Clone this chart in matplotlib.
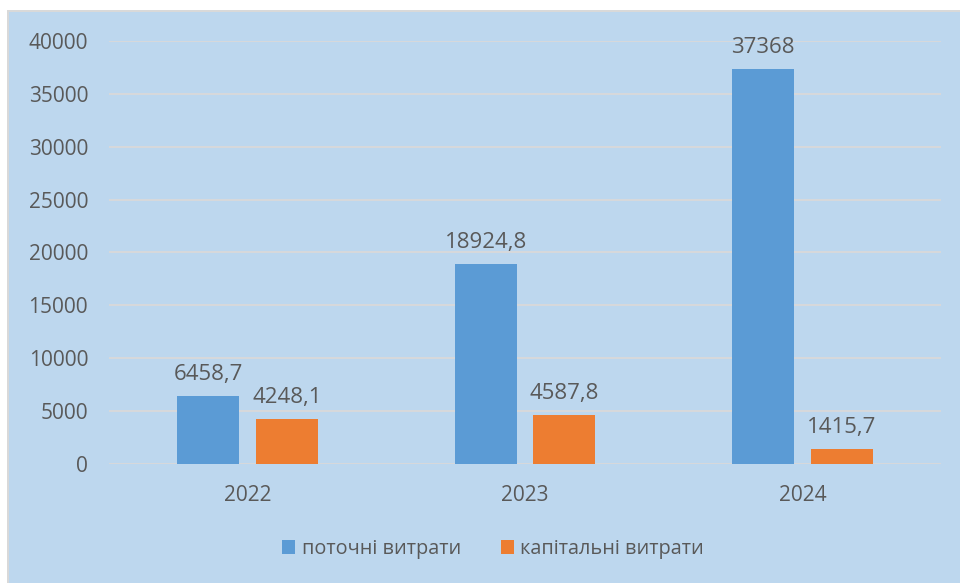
import matplotlib
matplotlib.use("Agg")
import matplotlib.pyplot as plt
import numpy as np
from matplotlib.patches import Rectangle

years = ["2022", "2023", "2024"]
current = [6458.7, 18924.8, 37368]
capital = [4248.1, 4587.8, 1415.7]
current_labels = ["6458,7", "18924,8", "37368"]
capital_labels = ["4248,1", "4587,8", "1415,7"]
series_names = ["поточні витрати", "капітальні витрати"]
yticks = [0, 5000, 10000, 15000, 20000, 25000, 30000, 35000, 40000]

BG = "#BDD7EE"
TXT = "#595959"
BLUE = "#5B9BD5"
ORANGE = "#ED7D31"
GRID = "#D9D9D9"

plt.rcParams['font.family'] = ['Open Sans', 'DejaVu Sans']

fig = plt.figure(figsize=(9.6, 5.83), dpi=100)
fig.patch.set_facecolor("white")
fig.patches.append(Rectangle((7/960, 0), 953/960, 573/583, transform=fig.transFigure,
                             facecolor=GRID, edgecolor="none", zorder=-2))
fig.patches.append(Rectangle((9/960, 0), 951/960, 571/583, transform=fig.transFigure,
                             facecolor=BG, edgecolor="none", zorder=-1))

ax = fig.add_axes([109/960, 1 - 464/583, 832/960, (464-41)/583])
ax.set_facecolor("none")
x = np.arange(len(years))
w = 0.224
gap = 0.06
b1 = ax.bar(x - (w + gap)/2, current, width=w, color=BLUE, label=series_names[0], zorder=3)
b2 = ax.bar(x + (w + gap)/2, capital, width=w, color=ORANGE, label=series_names[1], zorder=3)

for rect, lab in zip(b1, current_labels):
    ax.annotate(lab, (rect.get_x() + rect.get_width()/2, rect.get_height()),
                xytext=(0, 8), textcoords="offset points", ha="center", va="bottom",
                fontsize=16, color=TXT)
for rect, lab in zip(b2, capital_labels):
    ax.annotate(lab, (rect.get_x() + rect.get_width()/2, rect.get_height()),
                xytext=(0, 8), textcoords="offset points", ha="center", va="bottom",
                fontsize=16, color=TXT)

ax.set_xlim(-0.5, 2.5)
ax.set_ylim(0, 40000)
ax.set_yticks(yticks)
ax.set_yticklabels([str(v) for v in yticks])
ax.set_xticks(x)
ax.set_xticklabels(years)
ax.yaxis.grid(True, color=GRID, linewidth=1.3, zorder=0)
ax.set_axisbelow(True)
for s in ax.spines.values():
    s.set_visible(False)
ax.tick_params(axis="both", length=0, colors=TXT, labelsize=15)
ax.tick_params(axis="y", pad=15)
ax.tick_params(axis="x", pad=15)

leg = fig.legend(handles=[b1, b2], labels=series_names, loc="center",
                 bbox_to_anchor=(493/960, 1 - 549/583), ncol=2, frameon=False,
                 fontsize=14.3, labelcolor=TXT, handlelength=0.65, handleheight=0.65,
                 handletextpad=0.35, columnspacing=2.0)

fig.savefig("out.png", dpi=100, facecolor=fig.get_facecolor())
